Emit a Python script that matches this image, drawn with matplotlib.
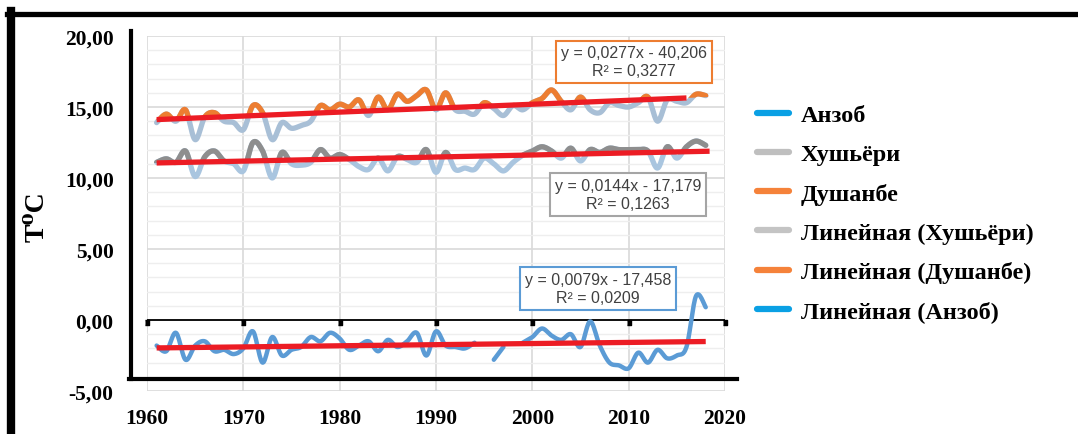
import matplotlib
matplotlib.use("Agg")
import matplotlib.pyplot as plt
from matplotlib.lines import Line2D
from matplotlib.patches import Polygon
import numpy as np

years = list(range(1961, 2019))

anzob = [-1.8, -2.2, -0.9, -2.8, -1.8, -1.5, -2.2, -2.1, -2.4, -2.0,
         -0.8, -3.0, -1.2, -2.5, -2.1, -1.9, -1.2, -1.5, -0.9, -1.3,
         -2.1, -1.8, -1.5, -2.2, -1.4, -1.9, -1.5, -0.9, -2.5, -0.8,
         -1.8, -1.9, -2.0, -1.6, np.nan, -2.8, -1.9, np.nan, -1.6, -1.2,
         -0.6, -1.1, -1.4, -1.0, -1.9, -0.1, -1.8, -3.0, -3.2, -3.4,
         -2.3, -3.0, -2.1, -2.7, -2.5, -1.9, 1.7, 0.9]

khushyori = [11.1, 11.35, 11.1, 11.9, 10.1, 11.5, 11.9, 11.2, 11.0, 10.5,
             12.5, 11.9, 10.0, 11.8, 11.0, 10.9, 11.1, 12.0, 11.4, 11.65,
             11.3, 10.8, 10.6, 11.4, 10.5, 11.5, 11.3, 11.1, 12.0, 10.4,
             11.8, 10.6, 10.7, 10.6, 11.4, 11.0, 10.5, 11.1, 11.6, 11.9,
             12.2, 11.9, 11.4, 12.1, 11.2, 12.0, 11.8, 12.1, 12.0, 12.0,
             12.0, 11.9, 10.7, 12.2, 11.4, 12.2, 12.6, 12.3]

dushanbe = [13.9, 14.5, 14.0, 14.8, 12.7, 14.3, 14.6, 14.0, 13.9, 13.4,
            15.1, 14.6, 12.7, 13.9, 13.5, 13.7, 14.0, 15.1, 14.8, 15.2,
            15.0, 15.5, 14.4, 15.7, 14.8, 15.9, 15.4, 15.8, 16.2, 14.8,
            16.0, 14.8, 14.7, 14.5, 15.3, 14.9, 14.4, 15.1, 14.8, 15.3,
            15.6, 16.2, 15.4, 14.8, 15.7, 14.8, 14.6, 15.3, 15.1, 15.0,
            15.3, 15.7, 14.0, 15.5, 15.4, 15.3, 15.9, 15.8]

# trend lines: Хушьёри, Душанбе, Анзоб
trend_slopes = [0.0144, 0.0277, 0.0079]
trend_intercepts = [-17.179, -40.206, -17.458]
trend_r2 = [0.1263, 0.3277, 0.0209]
trend_start = [1961, 1961, 1961]
trend_end = [2018.4, 2016, 2018]

legend_labels = ["Анзоб", "Хушьёри", "Душанбе", "Линейная (Хушьёри)",
                 "Линейная (Душанбе)", "Линейная (Анзоб)"]
legend_colors = ["#0aa0e4", "#bfbfbf", "#f5823a", "#c4c4c4", "#f5823a", "#0aa0e4"]

y_ticks = [-5, 0, 5, 10, 15, 20]
x_ticks = [1960, 1970, 1980, 1990, 2000, 2010, 2020]

W, H = 1078, 435
serif = "Liberation Serif"


def smooth(x, y, n=16):
    # Catmull-Rom curve through the points, breaking at missing values
    x = np.asarray(x, float)
    y = np.asarray(y, float)
    ok = ~np.isnan(y)
    xs, ys = [], []
    i = 0
    while i < len(x):
        if not ok[i]:
            i += 1
            continue
        j = i
        while j < len(x) and ok[j]:
            j += 1
        p = np.column_stack([x[i:j], y[i:j]])
        if len(p) >= 2:
            pe = np.vstack([p[0], p, p[-1]])
            t = np.linspace(0, 1, n, endpoint=False)[:, None]
            for k in range(len(p) - 1):
                p0, p1, p2, p3 = pe[k], pe[k + 1], pe[k + 2], pe[k + 3]
                c = 0.5 * (2 * p1 + (-p0 + p2) * t
                           + (2 * p0 - 5 * p1 + 4 * p2 - p3) * t ** 2
                           + (-p0 + 3 * p1 - 3 * p2 + p3) * t ** 3)
                xs.extend(c[:, 0])
                ys.extend(c[:, 1])
            xs.append(p[-1, 0])
            ys.append(p[-1, 1])
        xs.append(np.nan)
        ys.append(np.nan)
        i = j
    return np.array(xs), np.array(ys)


def fx(px):
    return px / W


def fy(py):
    return 1 - py / H


fig = plt.figure(figsize=(W / 100, H / 100), dpi=100)
ax = fig.add_axes([fx(147), fy(392), (725 - 147) / W, (392 - 37) / H])
ax.set_xlim(1960, 2020)
ax.set_ylim(-5, 20)

ax.set_yticks(y_ticks)
ax.set_yticks(np.arange(-5, 21, 1), minor=True)
ax.set_xticks(x_ticks)
ax.grid(which="major", color="#d9d9d9", lw=1.2)
ax.grid(which="minor", axis="y", color="#eeeeee", lw=1.0)
ax.set_axisbelow(True)
for s in ax.spines.values():
    s.set_visible(False)
ax.tick_params(which="both", length=0)
ax.tick_params(axis="y", pad=24)
ax.tick_params(axis="x", pad=12)
ax.set_yticklabels([f"{v:.2f}".replace(".", ",") for v in y_ticks])
for lab in ax.get_yticklabels() + ax.get_xticklabels():
    lab.set_fontfamily(serif)
    lab.set_fontweight("bold")
    lab.set_fontsize(15.5)

# zero axis with outside tick marks
ax.axhline(0, color="black", lw=1.3, zorder=3)
tick_marker = [(-0.5, 0), (0.5, 0), (0.5, -1.6), (-0.5, -1.6)]
ax.plot(x_ticks, [0] * len(x_ticks), ls="none", marker=tick_marker,
        ms=7, color="black", zorder=3, clip_on=False)

# series: coloured above their trend line, light blue below
series = [(khushyori, "#8e8e8e", "#a9c5df", 0),
          (dushanbe, "#ed7d31", "#a8bfd6", 1)]
for vals, top_col, low_col, k in series:
    sx, sy = smooth(years, vals)
    ax.plot(sx, sy, color=low_col, lw=3.8, solid_capstyle="round", zorder=4)
    top, = ax.plot(sx, sy, color=top_col, lw=3.8, solid_capstyle="round", zorder=5)
    a, b = trend_slopes[k], trend_intercepts[k]
    clip = Polygon([(1950, a * 1950 + b), (2030, a * 2030 + b), (2030, 40), (1950, 40)],
                   transform=ax.transData)
    top.set_clip_path(clip)

sx, sy = smooth(years, anzob)
ax.plot(sx, sy, color="#5b9bd5", lw=3.2, solid_capstyle="round", zorder=5)

for k in range(3):
    tx = np.array([trend_start[k], trend_end[k]])
    ax.plot(tx, trend_slopes[k] * tx + trend_intercepts[k], color="#ec1c24",
            lw=3.8, zorder=6, solid_capstyle="butt")

# trend equations
box_pos = [(0.832, 0.5535), (0.8426, 0.927), (0.780, 0.2887)]
box_edge = ["#a5a5a5", "#ed7d31", "#5b9bd5"]
for k in range(3):
    eq = f"y = {trend_slopes[k]:.4f}x - {abs(trend_intercepts[k]):.3f}".replace(".", ",")
    r2 = f"R² = {trend_r2[k]:.4f}".replace(".", ",")
    ax.text(box_pos[k][0], box_pos[k][1], eq + "\n" + r2, transform=ax.transAxes,
            ha="center", va="center", fontsize=11.5, family="Liberation Sans",
            color="#404040", linespacing=1.25, zorder=7,
            bbox=dict(boxstyle="square,pad=0.3", fc="white", ec=box_edge[k], lw=1.5))

# y label
fig.text(fx(37), fy(217), "T⁰C", rotation=90, ha="center", va="center",
         fontsize=20, fontweight="bold", family=[serif, "DejaVu Serif"])

# frame lines
fig.add_artist(Line2D([fx(7), fx(W)], [fy(14.5), fy(14.5)], color="black", lw=3.8))
fig.add_artist(Line2D([fx(11), fx(11)], [fy(12), fy(H)], color="black", lw=6))
fig.add_artist(Line2D([fx(130.5), fx(130.5)], [fy(32), fy(380)], color="black", lw=3))
fig.add_artist(Line2D([fx(129), fx(737)], [fy(380), fy(380)], color="black", lw=3))

# legend
handles = [Line2D([], [], color=c, lw=4.5, solid_capstyle="round") for c in legend_colors]
fig.legend(handles, legend_labels, loc="upper left",
           bbox_to_anchor=(fx(757), fy(105)), frameon=False,
           prop=dict(family=serif, weight="bold", size=17.5),
           handlelength=1.3, handletextpad=0.5, labelspacing=0.71,
           borderpad=0, borderaxespad=0)

fig.savefig("out.png", dpi=100)
